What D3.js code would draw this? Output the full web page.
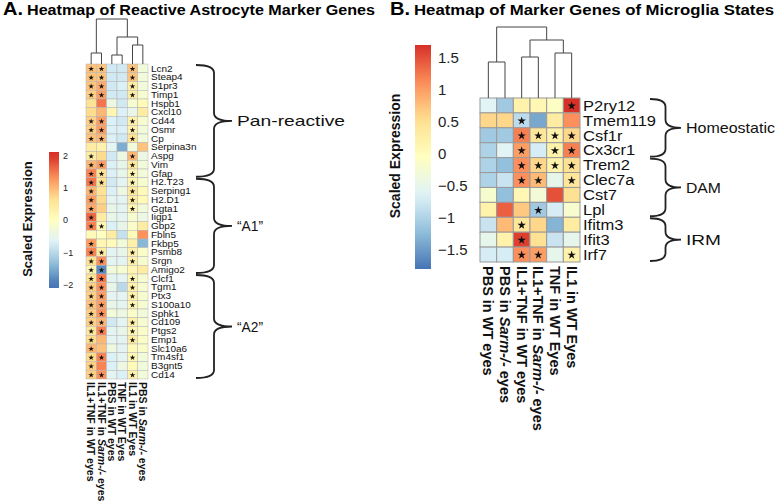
<!DOCTYPE html>
<html><head><meta charset="utf-8">
<script src="https://cdn.jsdelivr.net/npm/d3@7"></script>
<style>body{margin:0;background:#fff} svg{display:block}</style>
</head><body><svg id="c" width="777" height="503"></svg>
<script>
// ---------- Panel A data ----------
const genesA = ["Lcn2","Steap4","S1pr3","Timp1","Hspb1","Cxcl10","Cd44","Osmr","Cp","Serpina3n","Aspg","Vim","Gfap","H2.T23","Serping1","H2.D1","Ggta1","Iigp1","Gbp2","Fbln5","Fkbp5","Psmb8","Srgn","Amigo2","Clcf1","Tgm1","Ptx3","S100a10","Sphk1","Cd109","Ptgs2","Emp1","Slc10a6","Tm4sf1","B3gnt5","Cd14"];
const conditionsA = ["IL1+TNF in WT eyes","IL1+TNF in Sarm-/- eyes","PBS in WT eyes","TNF in WT Eyes","IL1 in WT Eyes","PBS in Sarm-/- eyes"];
const valuesA = [
 [0.9,0.9,-0.8,-0.8,0.9,-0.3],
 [0.9,0.9,-0.8,-0.8,0.9,-0.3],
 [0.9,1.1,-0.8,-0.7,0.4,-0.3],
 [0.8,1.2,-0.8,-0.8,0.4,-0.2],
 [0.6,1.5,-0.4,-0.8,-0.2,0.1],
 [0.7,1.0,0.2,-0.7,-0.5,0.4],
 [0.8,1.2,-0.7,-0.8,0.3,-0.2],
 [0.8,1.2,-0.7,-0.7,0.3,-0.3],
 [0.9,1.0,-0.7,-0.8,0.6,-0.3],
 [0.4,0.3,-0.6,-1.5,-0.3,0.9],
 [0.4,0.7,-0.8,-0.4,1.0,-0.4],
 [1.0,1.2,-0.7,-0.5,0.5,-0.3],
 [1.4,0.6,-0.7,-0.5,0.2,-0.3],
 [1.5,0.6,-0.8,-0.6,0.2,-0.2],
 [1.0,0.6,-0.7,-0.4,0.5,0.1],
 [1.2,0.7,-0.6,-0.6,0.4,0.1],
 [1.1,0.8,-0.5,-0.6,0.2,-0.3],
 [1.6,0.4,-0.5,-0.6,-0.2,-0.4],
 [1.4,0.2,-0.7,-0.5,-0.1,0.4],
 [0.1,0.0,0.4,-0.9,0.1,1.3],
 [1.2,0.2,0.1,-0.3,0.3,-1.4],
 [1.4,0.4,-0.6,-0.5,0.3,-0.1],
 [0.6,1.3,-0.6,-0.6,0.3,-0.2],
 [0.2,-1.8,-0.3,-0.2,0.2,0.4],
 [0.6,1.5,-0.6,-0.6,0.2,-0.2],
 [0.8,1.3,-0.5,-1.0,0.3,-0.2],
 [0.8,1.2,-0.6,-0.6,0.3,-0.2],
 [0.9,1.2,-0.5,-0.6,0.2,-0.2],
 [0.8,1.3,-0.3,-0.4,-0.1,-0.3],
 [0.8,1.0,-0.8,-0.6,0.3,-0.2],
 [0.5,1.4,-0.6,-0.5,0.2,-0.1],
 [0.7,1.0,-0.6,-0.6,0.4,-0.1],
 [1.0,0.9,-0.4,-0.6,0.1,-0.1],
 [0.7,1.4,-0.7,-0.6,0.2,-0.3],
 [0.8,1.4,-0.7,-0.4,0.1,-0.3],
 [0.8,1.3,-0.6,-0.7,0.3,-0.3]
];
const starsA = ["110010","110010","110010","110010","000000","000000","110010","110010","110010","000000","100010","110010","110010","110010","100010","100010","100010","100000","110000","000000","100000","110010","110010","110000","110010","110010","110010","110010","110000","110010","110010","100010","100000","110010","100000","110010"];
// hclust-style merges: [left, right, height]; negative = leaf (1-based), positive = earlier merge
const mergesA = [[-1,-2,11],[-3,-4,9],[-5,-6,19],[2,3,27],[1,4,45]];
const groupsA = [["Pan-reactive","Lcn2","Gfap"],["\u201CA1\u201D","H2.T23","Amigo2"],["\u201CA2\u201D","Clcf1","Cd14"]];
const legendTicksA = [2,1,0,-1,-2];

// ---------- Panel B data ----------
const genesB = ["P2ry12","Tmem119","Csf1r","Cx3cr1","Trem2","Clec7a","Cst7","Lpl","Ifitm3","Ifit3","Irf7"];
const conditionsB = ["PBS in WT eyes","PBS in Sarm-/- eyes","IL1+TNF in WT eyes","IL1+TNF in Sarm-/- eyes","TNF in WT Eyes","IL1 in WT Eyes"];
const valuesB = [
 [-0.6,-1.1,0.2,0.1,-0.1,1.7],
 [0.6,0.6,-0.9,-1.4,0.3,1.1],
 [-1.1,-1.1,1.2,0.4,0.2,0.6],
 [-1.0,-0.6,1.0,-0.7,0.2,1.2],
 [-1.0,-1.2,1.1,0.6,0.2,0.5],
 [-1.0,-0.8,1.1,0.8,-0.5,0.4],
 [-0.2,-1.2,0.1,-0.3,1.5,0.5],
 [0.2,1.4,0.7,-1.1,-0.7,-0.2],
 [-0.8,0.8,0.4,0.6,-1.3,0.3],
 [-0.5,0.2,1.6,0.5,-0.8,-0.5],
 [-0.7,-0.7,1.1,1.0,-0.5,0.2]
];
const starsB = ["000001","001000","001111","001011","001111","001101","000000","000100","001000","001000","001101"];
const mergesB = [[-1,-2,36],[-3,-4,41],[-5,-6,45],[2,3,58],[1,4,71]];
const groupsB = [["Homeostatic","P2ry12","Cx3cr1"],["DAM","Trem2","Lpl"],["IRM","Ifitm3","Irf7"]];
const legendTicksB = [1.5,1,0.5,0,-0.5,-1,-1.5];

const palette = ["#4575B4","#91BFDB","#E0F3F8","#FFFFBF","#FEE090","#FC8D59","#D73027"];
const svg = d3.select("#c");
const FONT = "Liberation Sans, Arial, Helvetica, sans-serif";
const NARROW = "Liberation Sans Narrow, Arial Narrow, Liberation Sans, Arial, sans-serif";

function colorScale(lo, hi){
  return d3.scaleLinear().domain(d3.range(7).map(i => lo + (hi-lo)*i/6)).range(palette).clamp(true);
}

function condLabel(sel, label){
  const parts = label.split("Sarm-/-");
  sel.append("tspan").text(parts[0]);
  if(parts.length > 1){
    sel.append("tspan").attr("font-style","italic").text("Sarm-/-");
    sel.append("tspan").text(parts[1]);
  }
}

function brace(x, y0, y1, w){
  const ym = (y0+y1)/2, q = w*0.5, r = Math.min(8, (y1-y0)/4);
  return `M${x},${y0} Q${x+q},${y0} ${x+q},${y0+r} L${x+q},${ym-r} Q${x+q},${ym} ${x+w},${ym} Q${x+q},${ym} ${x+q},${ym+r} L${x+q},${y1-r} Q${x+q},${y1} ${x},${y1}`;
}

function heatmap(cfg){
  const {genes, conds, values, stars, merges, groups, x, y, color, starSize, border, borderW,
         rowFont, rowSX, colFont, colFamily, colGap, dendTop, braceX, braceW, groupFont, groupW} = cfg;
  const g = svg.append("g");
  const cells = [];
  genes.forEach((gn,i) => conds.forEach((c,j) => cells.push({gn, c, v: values[i][j], s: stars[i][j]==="1"})));
  g.selectAll("rect.cell").data(cells).join("rect")
    .attr("x", d => x(d.c)).attr("y", d => y(d.gn))
    .attr("width", x.bandwidth()).attr("height", y.bandwidth())
    .attr("fill", d => color(d.v)).attr("stroke", border).attr("stroke-width", borderW);
  g.selectAll("path.star").data(cells.filter(d => d.s)).join("path")
    .attr("transform", d => `translate(${x(d.c)+x.bandwidth()/2},${y(d.gn)+y.bandwidth()/2+0.5})`)
    .attr("d", d3.symbol(d3.symbolStar, starSize)).attr("fill","#111");
  // row labels
  g.selectAll("text.row").data(genes).join("text")
    .attr("transform", d => `translate(${x.range()[1]+3},${y(d)+y.bandwidth()/2}) scale(${rowSX},1)`)
    .attr("dy","0.35em").attr("font-family", FONT).attr("font-size", rowFont).attr("fill","#111").text(d => d);
  // column labels (rotated 90deg clockwise)
  g.selectAll("text.col").data(conds).join("text")
    .attr("transform", d => `translate(${x(d)+x.bandwidth()/2},${y.range()[1]+colGap}) rotate(90)`)
    .attr("dy","0.35em").attr("font-family", colFamily).attr("font-weight","bold").attr("font-size", colFont).attr("fill","#111")
    .each(function(d){ condLabel(d3.select(this), d); });
  // dendrogram
  const top = y.range()[0];
  const hmax = d3.max(merges, m => m[2]);
  const h = d3.scaleLinear().domain([0,hmax]).range([top, dendTop]);
  const nodes = [];
  const pos = k => k < 0 ? {x: x(conds[-k-1]) + x.bandwidth()/2, y: h(0)} : nodes[k-1];
  merges.forEach(m => {
    const a = pos(m[0]), b = pos(m[1]), yy = h(m[2]);
    g.append("path").attr("d", `M${a.x},${a.y} V${yy} H${b.x} V${b.y}`)
      .attr("fill","none").attr("stroke","#444").attr("stroke-width",1);
    nodes.push({x:(a.x+b.x)/2, y:yy});
  });
  // braces
  groups.forEach(([lab, g0, g1]) => {
    const y0 = y(g0)+1, y1 = y(g1)+y.bandwidth()-1;
    g.append("path").attr("d", brace(braceX, y0, y1, braceW)).attr("fill","none").attr("stroke","#222").attr("stroke-width",1.8);
    g.append("text").attr("x", braceX+braceW+5).attr("y",(y0+y1)/2).attr("dy","0.35em")
      .attr("font-family",FONT).attr("font-size",groupFont).attr("fill","#111")
      .attr("textLength", groupW(lab)).attr("lengthAdjust","spacingAndGlyphs").text(lab);
  });
}

function legend(cfg){
  const {x0, w, yTop, yBot, lo, hi, ticks, color, font, id, title, titleX, titleY, titleFont} = cfg;
  const ys = d3.scaleLinear().domain([lo,hi]).range([yBot,yTop]);
  const grad = svg.append("defs").append("linearGradient").attr("id",id)
    .attr("x1",0).attr("x2",0).attr("y1",1).attr("y2",0);
  d3.range(0,1.0001,0.05).forEach(t => grad.append("stop").attr("offset",t).attr("stop-color", color(lo+(hi-lo)*t)));
  svg.append("rect").attr("x",x0).attr("y",yTop).attr("width",w).attr("height",yBot-yTop).attr("fill",`url(#${id})`);
  const ax = svg.append("g").attr("transform",`translate(${x0+w},0)`)
    .call(d3.axisRight(ys).tickValues(ticks).tickSize(0).tickPadding(cfg.pad).tickFormat(d3.format("")));
  ax.select(".domain").remove();
  ax.selectAll("text").attr("font-family",FONT).attr("font-size",font).attr("fill","#222");
  svg.append("text").attr("transform",`translate(${titleX},${titleY}) rotate(-90)`).attr("text-anchor","middle")
    .attr("font-family",FONT).attr("font-weight","bold").attr("font-size",titleFont).attr("fill","#111").text(title);
}

// ---------- titles ----------
function title(xL, xT, xEnd, letter, txt){
  svg.append("text").attr("x",xL).attr("y",15).attr("font-family",FONT).attr("font-weight","bold").attr("font-size",18)
    .attr("textLength", xT-xL-4).attr("lengthAdjust","spacingAndGlyphs").text(letter);
  svg.append("text").attr("x",xT).attr("y",15).attr("font-family",FONT).attr("font-weight","bold").attr("font-size",14)
    .attr("textLength", xEnd-xT).attr("lengthAdjust","spacingAndGlyphs").text(txt);
}
title(3, 27, 375, "A.", "Heatmap of Reactive Astrocyte Marker Genes");
title(390, 414, 774, "B.", "Heatmap of Marker Genes of Microglia States");

// ---------- Panel A ----------
const colorA = colorScale(-2, 2);
heatmap({
  genes: genesA, conds: conditionsA, values: valuesA, stars: starsA, merges: mergesA, groups: groupsA,
  x: d3.scaleBand().domain(conditionsA).range([86,148]),
  y: d3.scaleBand().domain(genesA).range([64,379]),
  color: colorA, starSize: 10, border: "#b5b5b5", borderW: 0.5,
  rowFont: 9.5, rowSX: 1.05, colFont: 10.5, colFamily: NARROW, colGap: 3, dendTop: 19,
  braceX: 196, braceW: 36, groupFont: 15,
  groupW: l => l === "Pan-reactive" ? 108 : 26
});
legend({x0:49, w:10, yTop:152, yBot:288, lo:-2.1, hi:2.1, ticks: legendTicksA, color: colorA, font: 9, pad: 4,
  id:"gA", title:"Scaled Expression", titleX:32, titleY:219, titleFont:13});

// ---------- Panel B ----------
const colorB = colorScale(-1.8, 1.7);
heatmap({
  genes: genesB, conds: conditionsB, values: valuesB, stars: starsB, merges: mergesB, groups: groupsB,
  x: d3.scaleBand().domain(conditionsB).range([480,580]),
  y: d3.scaleBand().domain(genesB).range([98,262]),
  color: colorB, starSize: 22, border: "#9a9a9a", borderW: 1,
  rowFont: 15, rowSX: 1.1, colFont: 14.5, colFamily: NARROW, colGap: 4, dendTop: 27,
  braceX: 650, braceW: 31, groupFont: 15,
  groupW: l => l === "Homeostatic" ? 89 : 35
});
legend({x0:415, w:16, yTop:45, yBot:269, lo:-1.8, hi:1.7, ticks: legendTicksB, color: colorB, font: 15, pad: 7,
  id:"gB", title:"Scaled Expression", titleX:400, titleY:156, titleFont:14});
</script></body></html>
